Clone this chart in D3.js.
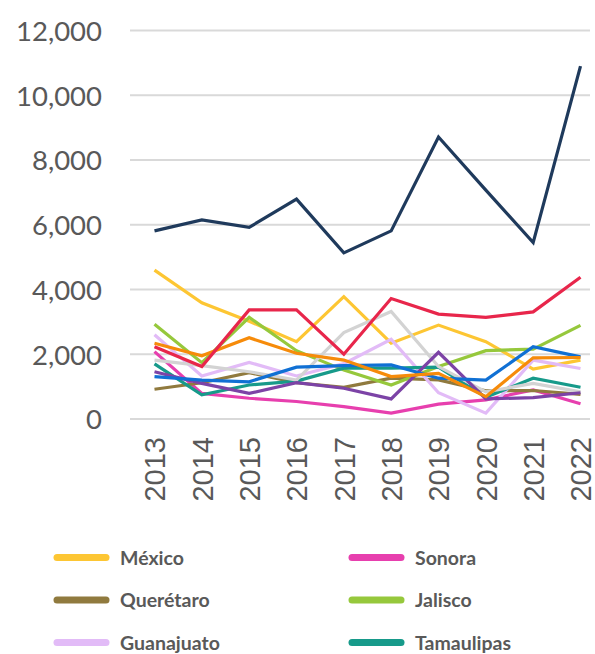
<!DOCTYPE html>
<html>
<head>
<meta charset="utf-8">
<script src="https://cdn.jsdelivr.net/npm/d3@7"></script>
<style>
  html, body { margin: 0; padding: 0; background: #fff; }
  svg { display: block; }
</style>
</head>
<body>
<svg id="chart" width="595" height="654"></svg>
<script>
// ── Datos ──
const years = ["2013", "2014", "2015", "2016", "2017", "2018", "2019", "2020", "2021", "2022"];
const yTicks = [0, 2000, 4000, 6000, 8000, 10000, 12000];

const mexico     = [4600, 3590, 3020, 2390, 3780, 2340, 2900, 2390, 1540, 1820];
const sonora     = [2080, 790, 640, 540, 380, 180, 460, 590, 900, 470];
const queretaro  = [920, 1120, 1430, 1120, 980, 1260, 1210, 870, 880, 760];
const jalisco    = [2930, 1740, 3140, 2110, 1510, 1050, 1620, 2110, 2160, 2890];
const guanajuato = [2600, 1330, 1750, 1330, 1710, 2460, 810, 180, 1820, 1560];
const tamaulipas = [1700, 750, 1050, 1170, 1570, 1570, 1600, 670, 1260, 980];
const serieNavy  = [5810, 6150, 5920, 6790, 5130, 5810, 8710, 7070, 5450, 10900];
const serieRoja  = [2230, 1620, 3370, 3370, 2000, 3720, 3240, 3140, 3310, 4380];
const serieNaranja = [2340, 1950, 2510, 2030, 1820, 1310, 1410, 690, 1890, 1900];
const serieAzul  = [1310, 1200, 1150, 1600, 1650, 1670, 1260, 1200, 2230, 1920];
const serieGris  = [1820, 1650, 1460, 1200, 2670, 3320, 1620, 840, 1100, 840];
const serieMorada = [1460, 1100, 790, 1120, 950, 620, 2060, 620, 660, 810];

// orden de dibujo (las últimas quedan encima)
const series = [
  { name: "México",     color: "#fdc633", values: mexico },
  { name: "Sonora",     color: "#e73fae", values: sonora },
  { name: "Querétaro",  color: "#907a3e", values: queretaro },
  { name: "Jalisco",    color: "#96c83c", values: jalisco },
  { name: "Guanajuato", color: "#e2bbf7", values: guanajuato },
  { name: "Tamaulipas", color: "#179a8a", values: tamaulipas },
  { name: "",           color: "#d3d3d3", values: serieGris },
  { name: "",           color: "#7c43a6", values: serieMorada },
  { name: "",           color: "#1070d4", values: serieAzul },
  { name: "",           color: "#f68b0a", values: serieNaranja },
  { name: "",           color: "#e8264b", values: serieRoja },
  { name: "",           color: "#1f3a5c", values: serieNavy },
];

const svg = d3.select("#chart");

const x = d3.scalePoint().domain(years).range([154.5, 580.5]);
const y = d3.scaleLinear().domain([0, 12000]).range([419, 30.5]);

// ── Rejilla ──
svg.append("g").selectAll("line")
  .data(yTicks).join("line")
  .attr("x1", 130).attr("x2", 590)
  .attr("y1", d => y(d)).attr("y2", d => y(d))
  .attr("stroke", "#d9d9d9").attr("stroke-width", 2);

// ── Eje Y ──
const yAxis = svg.append("g")
  .attr("transform", "translate(102,0)")
  .call(d3.axisLeft(y).tickValues(yTicks).tickSize(0).tickPadding(0).tickFormat(d3.format(",")));
yAxis.select(".domain").remove();
yAxis.selectAll("text")
  .attr("fill", "#595959")
  .attr("font-family", "Lato, sans-serif")
  .attr("font-size", "27.5px")
  .attr("dy", "0.36em");

// ── Eje X (etiquetas rotadas) ──
const xAxis = svg.append("g")
  .attr("transform", "translate(0,419)")
  .call(d3.axisBottom(x).tickSize(0).tickPadding(0));
xAxis.select(".domain").remove();
xAxis.selectAll("text")
  .attr("fill", "#595959")
  .attr("font-family", "'Liberation Sans', Arial, sans-serif")
  .attr("font-size", "29px")
  .attr("text-anchor", "end")
  .attr("transform", "rotate(-90)")
  .attr("x", -18).attr("y", 0)
  .attr("dy", "0.36em");

// ── Líneas ──
const line = d3.line()
  .x((d, i) => x(years[i]))
  .y(d => y(d));

svg.append("g").selectAll("path")
  .data(series).join("path")
  .attr("fill", "none")
  .attr("stroke", d => d.color)
  .attr("stroke-width", 3.2)
  .attr("stroke-linejoin", "miter")
  .attr("d", d => line(d.values));

// ── Leyenda ──
const legendItems = series.filter(s => s.name);
const leg = svg.append("g").selectAll("g")
  .data(legendItems).join("g")
  .attr("transform", (d, i) => `translate(${i % 2 === 0 ? 57 : 352},${557.5 + Math.floor(i / 2) * 42.5})`);

leg.append("line")
  .attr("x1", 0).attr("x2", 49)
  .attr("stroke", d => d.color)
  .attr("stroke-width", 7)
  .attr("stroke-linecap", "round");

leg.append("text")
  .attr("x", 63).attr("dy", "0.36em")
  .attr("fill", "#595959")
  .attr("font-family", "Lato, sans-serif")
  .attr("font-weight", "bold")
  .attr("font-size", "19.5px")
  .text(d => d.name);
</script>
</body>
</html>
